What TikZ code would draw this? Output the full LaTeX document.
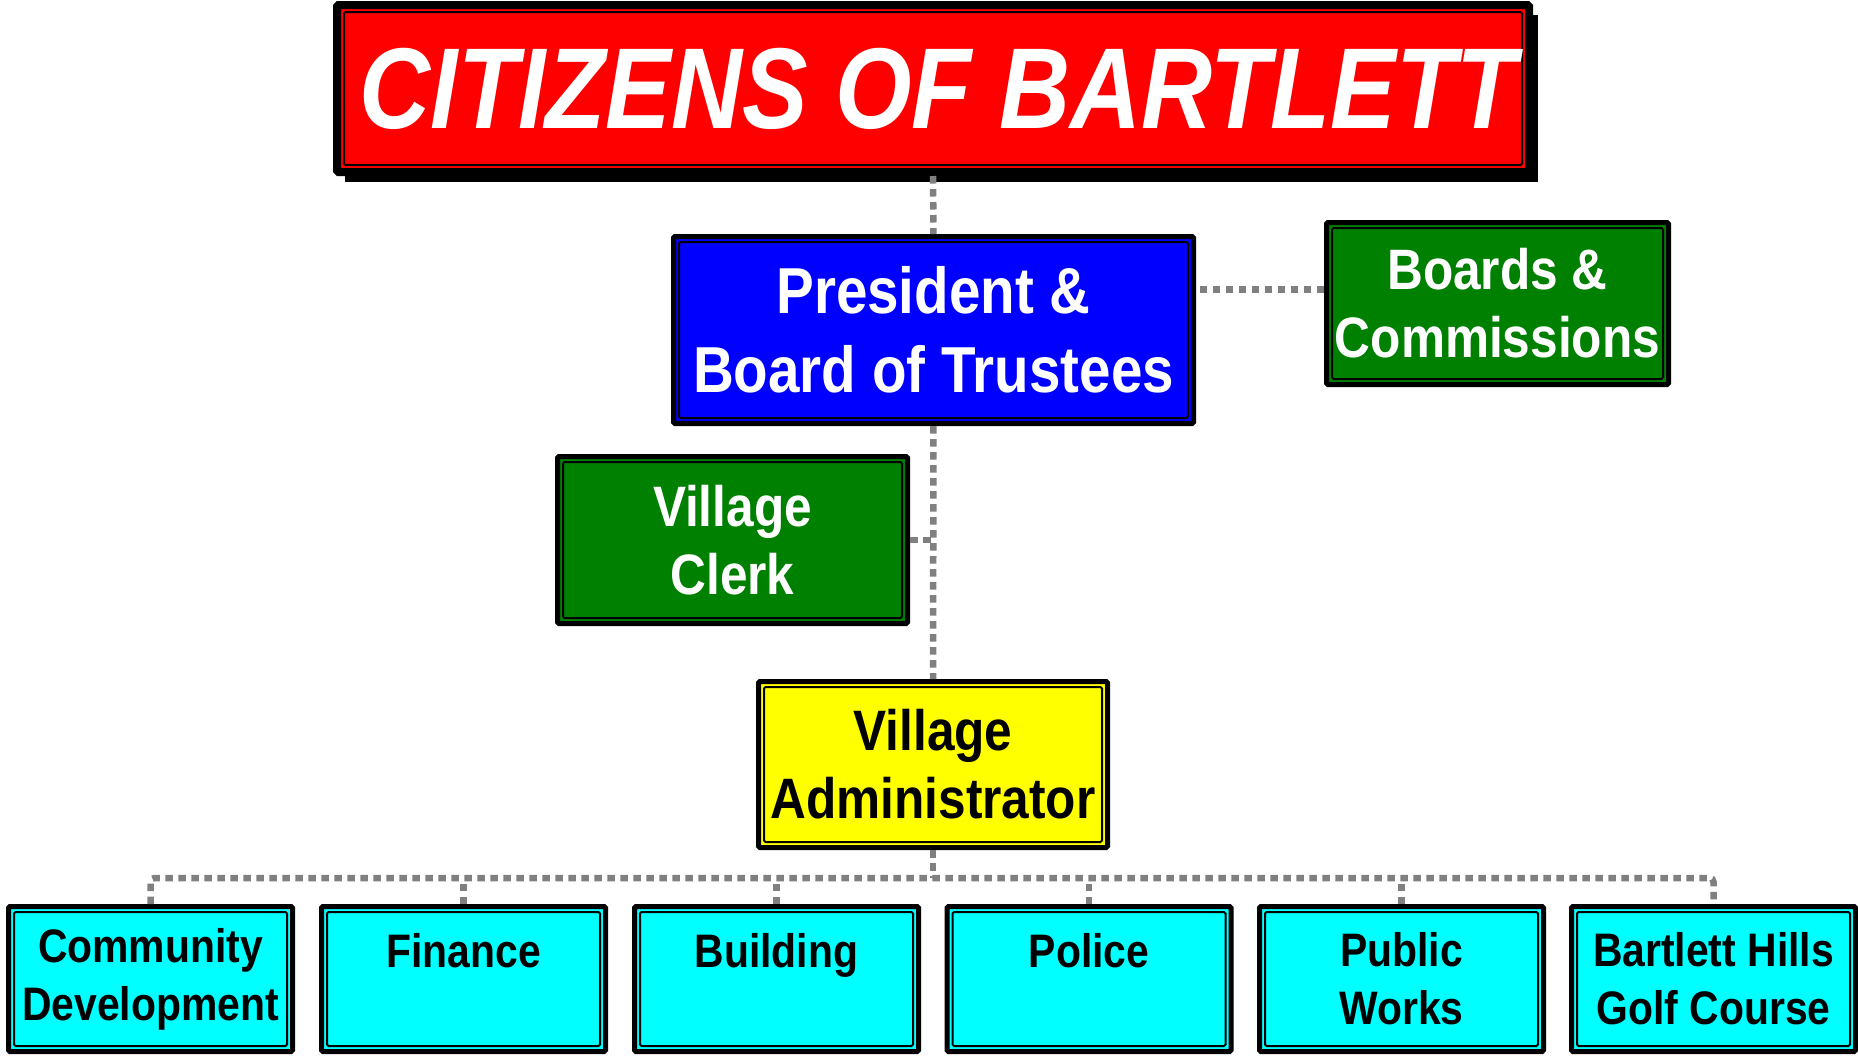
\documentclass[tikz,border=0pt]{standalone}
\usepackage{fontspec}
\setmainfont{Liberation Sans}[FakeStretch=0.87]
\newfontfamily\titlefamily{Liberation Sans}[FakeStretch=0.855]
\usetikzlibrary{backgrounds}
\definecolor{titlered}{RGB}{255,0,0}
\definecolor{boardblue}{RGB}{0,0,255}
\definecolor{clerkgreen}{RGB}{0,128,0}
\definecolor{adminyellow}{RGB}{255,255,0}
\definecolor{deptcyan}{RGB}{0,255,255}
\definecolor{linkgray}{RGB}{128,128,128}
\def\titlefont{\titlefamily\fontsize{115}{115}\selectfont\bfseries\itshape}
\def\headfont{\fontsize{65}{79}\selectfont\bfseries}
\def\midfont{\fontsize{57}{68}\selectfont\bfseries}
\def\deptfont{\fontsize{47}{58}\selectfont\bfseries}

\begin{document}
\begin{tikzpicture}[x=1pt, y=-1pt,
	box/.style={draw=black, line width=5pt, inner sep=0pt, align=center, rounded corners=1.5pt,
		path picture={\draw[black, line width=2pt]
			([shift={(#1,-#1)}]path picture bounding box.north west) rectangle
			([shift={(-#1,#1)}]path picture bounding box.south east);}},
	box/.default=5.5pt,
	dept/.style={box, fill=deptcyan, text=black, font=\deptfont, minimum width=284pt, minimum height=145pt},
	link/.style={draw=linkgray, line width=6.5pt, dash pattern=on 7.5pt off 5.5pt}]
	\useasboundingbox (0,0) rectangle (1858,1055);

	\node[box=7pt, line width=8pt, fill=titlered, text=white, font=\titlefont,
		minimum width=1192pt, minimum height=167pt] (citizens) at (933,88.5) {\hspace{10pt}CITIZENS OF BARTLETT};
	\node[box, fill=boardblue, text=white, font=\headfont,
		minimum width=520pt, minimum height=187pt] (president) at (933.5,330) {President \&\\Board of Trustees};
	\node[box, fill=clerkgreen, text=white, font=\midfont,
		minimum width=342pt, minimum height=162pt] (boards) at (1497.5,303.5) {Boards \&\\Commissions};
	\node[box, fill=clerkgreen, text=white, font=\midfont,
		minimum width=350pt, minimum height=167pt] (clerk) at (732.5,540) {Village\\Clerk};
	\node[box, fill=adminyellow, text=black, font=\midfont,
		minimum width=349pt, minimum height=166pt] (admin) at (933,764.5) {Village\\Administrator};

	% departments
	\node[dept] (community) at (150.5,979) {Community\\Development};
	\node[dept] (finance) at (463.5,979) {Finance\\~};
	\node[dept] (building) at (776.5,979) {Building\\~};
	\node[dept] (police) at (1089,979) {Police\\~};
	\node[dept] (works) at (1401.5,979) {Public\\Works};
	\node[dept] (golf) at (1713.5,979) {Bartlett Hills\\Golf Course};

	\begin{scope}[on background layer]
		\fill[white] (0,0) rectangle (1858,1055);
		\fill[black] ([shift={(12pt,-14pt)}]citizens.north west) rectangle ([shift={(5pt,-6pt)}]citizens.south east);
	\end{scope}

	% dotted links
	\coordinate (bus) at (933,878);
	\coordinate (boardlink) at ([yshift=14pt]boards.west);
	\draw[link] (citizens) -- (president);
	\draw[link] (president) -- (admin);
	\draw[link] (clerk) -- (clerk -| president);
	\draw[link] (boardlink) -- (boardlink -| president.east);
	\draw[link] (admin) -- (bus);
	\draw[link, rounded corners=4pt] (community.north) |- (bus) -| (golf.north);
	\draw[link] (finance.north) -- (finance.north |- bus);
	\draw[link] (building.north) -- (building.north |- bus);
	\draw[link] (police.north) -- (police.north |- bus);
	\draw[link] (works.north) -- (works.north |- bus);
\end{tikzpicture}
\end{document}
